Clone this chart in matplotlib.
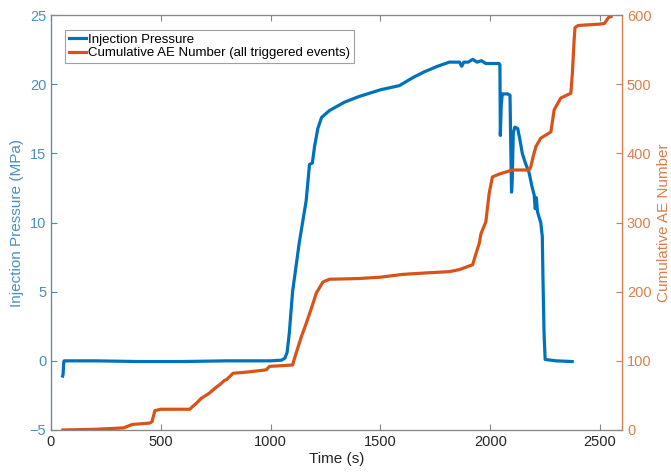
import matplotlib
matplotlib.use('Agg')
import matplotlib.pyplot as plt

plt.rcParams['font.family'] = ['Liberation Sans', 'DejaVu Sans']

# injection pressure (MPa) vs time (s)
p_time = [53, 55, 58, 60, 200, 400, 600, 800, 1000, 1050, 1065, 1075, 1085, 1100, 1130,
          1162, 1177, 1190, 1200, 1215, 1232, 1268, 1336, 1400, 1500, 1586, 1650, 1700,
          1760, 1814, 1860, 1870, 1880, 1900, 1920, 1940, 1960, 1980, 2000, 2040, 2044,
          2046, 2050, 2055, 2062, 2080, 2090, 2094, 2097, 2100, 2105, 2112, 2125, 2135,
          2146, 2160, 2177, 2190, 2200, 2205, 2210, 2215, 2222, 2230, 2237, 2240, 2245,
          2250, 2300, 2373]
pressure = [-1.1, -1.0, -0.1, 0.0, 0.0, -0.05, -0.05, 0.0, 0.0, 0.05, 0.2, 0.6, 2.0, 5.0,
            8.5, 11.6, 14.2, 14.3, 15.5, 16.8, 17.6, 18.1, 18.7, 19.1, 19.6, 19.9, 20.5,
            20.9, 21.3, 21.6, 21.6, 21.3, 21.6, 21.6, 21.8, 21.6, 21.7, 21.5, 21.5, 21.5,
            21.4, 16.3, 18.5, 19.3, 19.3, 19.3, 19.2, 15.0, 12.2, 13.0, 16.5, 16.9, 16.8,
            16.0, 15.0, 14.3, 13.6, 12.6, 12.0, 11.0, 11.8, 10.8, 10.4, 10.0, 9.0, 6.0,
            2.0, 0.1, 0.0, -0.05]

# cumulative AE number vs time (s)
ae_time = [54, 200, 330, 370, 450, 460, 473, 500, 632, 645, 660, 685, 720, 753, 770,
           791, 800, 829, 900, 980, 995, 1050, 1100, 1115, 1140, 1162, 1190, 1208, 1238,
           1268, 1400, 1500, 1600, 1700, 1814, 1860, 1920, 1935, 1950, 1958, 1980, 1995,
           2010, 2040, 2101, 2177, 2185, 2195, 2208, 2230, 2276, 2291, 2321, 2367, 2374,
           2382, 2386, 2400, 2500, 2520, 2540, 2550]
ae_count = [0, 1, 3, 8, 10, 12, 28, 30, 30, 34, 38, 46, 53, 62, 66, 72, 73, 82, 84, 87,
            92, 93, 94, 110, 135, 154, 180, 198, 214, 218, 219, 221, 225, 227, 229, 232,
            239, 255, 270, 284, 301, 342, 366, 370, 376, 376, 381, 395, 410, 422, 431, 463,
            480, 487, 516, 564, 582, 585, 587, 588, 597, 598]

blue = '#0072BD'
orange = '#D95319'
blue_ax = '#4a8fc2'
orange_ax = '#d9804d'

fig = plt.figure(figsize=(6.71, 4.72), dpi=100)
ax = fig.add_axes([0.076, 0.089, 0.851, 0.879])
ax2 = ax.twinx()

l1, = ax.plot(p_time, pressure, color=blue, lw=2.3, label='Injection Pressure')
l2, = ax2.plot(ae_time, ae_count, color=orange, lw=2.3,
               label='Cumulative AE Number (all triggered events)')

ax.set_xlim(0, 2600)
ax.set_ylim(-5, 25)
ax2.set_ylim(0, 600)
ax.set_xticks([0, 500, 1000, 1500, 2000, 2500])
ax.set_yticks([-5, 0, 5, 10, 15, 20, 25])
ax2.set_yticks([0, 100, 200, 300, 400, 500, 600])

ax.set_xlabel('Time (s)', fontsize=11, color='#262626', labelpad=2)
ax.set_ylabel('Injection Pressure (MPa)', fontsize=11, color=blue_ax, labelpad=4)
ax2.set_ylabel('Cumulative AE Number', fontsize=11, color=orange_ax, labelpad=4)

ax.tick_params(axis='x', direction='in', top=True, labelsize=10.5, colors='#262626',
               length=4, color='#888888')
ax.tick_params(axis='y', direction='in', labelsize=10.5, colors=blue_ax, length=4)
ax2.tick_params(axis='y', direction='in', labelsize=10.5, colors=orange_ax, length=4)

for s in ['top', 'bottom']:
    ax2.spines[s].set_color('#888888')
ax2.spines['left'].set_color(blue_ax)
ax2.spines['right'].set_color(orange_ax)
for sp in ax2.spines.values():
    sp.set_linewidth(0.8)

leg = ax2.legend(handles=[l1, l2], loc='upper left', bbox_to_anchor=(0.024, 0.965),
                 fontsize=9.5, frameon=True, fancybox=False, handlelength=1.3,
                 handletextpad=0.15, borderpad=0.3, labelspacing=0.1, borderaxespad=0)
leg.get_frame().set_edgecolor('#888888')
leg.get_frame().set_linewidth(0.8)

fig.savefig('out.png', dpi=100)
